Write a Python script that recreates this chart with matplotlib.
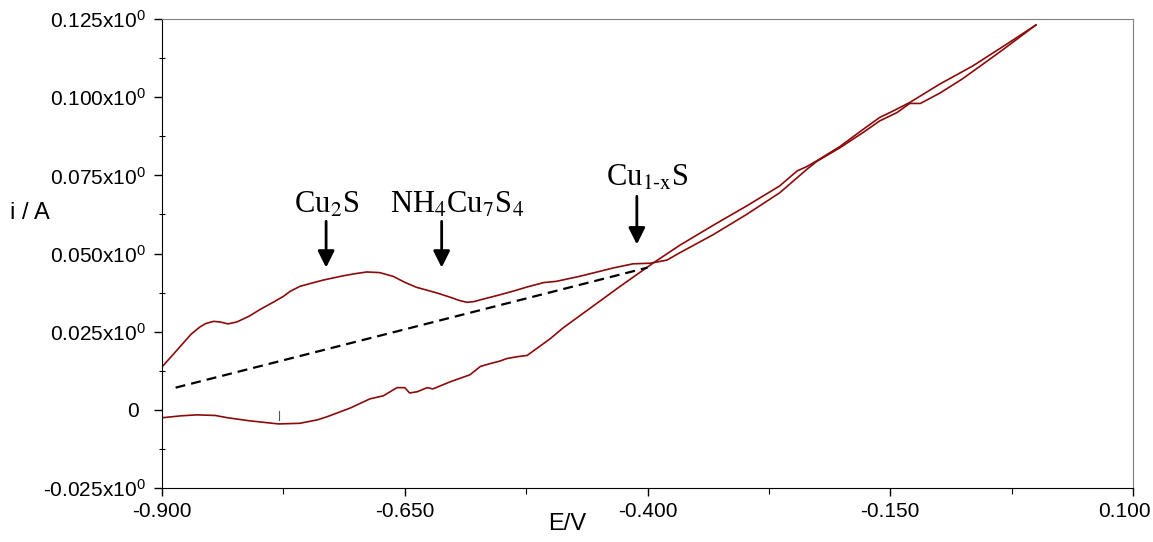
import numpy as np
import matplotlib
matplotlib.use('Agg')
import matplotlib.pyplot as plt
from matplotlib.ticker import FixedLocator
from matplotlib.transforms import ScaledTranslation

plt.rcParams['font.family'] = 'Liberation Sans'
plt.rcParams['mathtext.fontset'] = 'custom'
plt.rcParams['mathtext.rm'] = 'Liberation Sans'
plt.rcParams['mathtext.it'] = 'Liberation Sans:italic'

# forward branch (upper on the left, lower on the right of the crossing)
e_fwd = [-0.899, -0.890, -0.878, -0.870, -0.861, -0.855, -0.847, -0.840, -0.832, -0.823,
         -0.810, -0.799, -0.785, -0.775, -0.768, -0.758, -0.745, -0.734, -0.713, -0.700,
         -0.689, -0.676, -0.662, -0.650, -0.638, -0.617, -0.603, -0.594, -0.586, -0.579,
         -0.572, -0.552, -0.538, -0.524, -0.507, -0.494, -0.470, -0.435, -0.415, -0.397,
         -0.380, -0.367, -0.332, -0.298, -0.264, -0.236, -0.226, -0.202, -0.178, -0.161,
         -0.143, -0.130, -0.119, -0.099, -0.076, -0.058, -0.034, 0.000]
i_fwd = [0.0141, 0.0172, 0.0214, 0.0242, 0.0265, 0.0276, 0.0283, 0.0281, 0.0275, 0.0281,
         0.0300, 0.0321, 0.0345, 0.0363, 0.0379, 0.0395, 0.0406, 0.0415, 0.0429, 0.0436,
         0.0441, 0.0439, 0.0427, 0.0408, 0.0392, 0.0374, 0.0360, 0.0350, 0.0344, 0.0346,
         0.0352, 0.0368, 0.0380, 0.0393, 0.0407, 0.0411, 0.0427, 0.0454, 0.0467, 0.0469,
         0.0479, 0.0502, 0.0561, 0.0625, 0.0694, 0.0769, 0.0794, 0.0838, 0.0887, 0.0924,
         0.0951, 0.0980, 0.0980, 0.1013, 0.1058, 0.1098, 0.1152, 0.1231]

# reverse branch
e_rev = [-0.899, -0.880, -0.864, -0.845, -0.833, -0.810, -0.780, -0.758, -0.740, -0.730,
         -0.718, -0.706, -0.686, -0.672, -0.658, -0.650, -0.645, -0.637, -0.627, -0.621,
         -0.603, -0.583, -0.572, -0.562, -0.552, -0.545, -0.534, -0.524, -0.500, -0.487,
         -0.460, -0.430, -0.394, -0.367, -0.332, -0.298, -0.264, -0.246, -0.236, -0.226,
         -0.202, -0.178, -0.161, -0.147, -0.130, -0.099, -0.065, -0.030, 0.000]
i_rev = [-0.0025, -0.0019, -0.0016, -0.0018, -0.0025, -0.0035, -0.0045, -0.0043, -0.0032, -0.0022,
         -0.0008, 0.0006, 0.0035, 0.0045, 0.0071, 0.0071, 0.0054, 0.0058, 0.0071, 0.0067,
         0.0090, 0.0112, 0.0139, 0.0148, 0.0156, 0.0164, 0.0170, 0.0174, 0.0228, 0.0262,
         0.0323, 0.0391, 0.0470, 0.0526, 0.0591, 0.0652, 0.0716, 0.0764, 0.0778, 0.0796,
         0.0842, 0.0897, 0.0935, 0.0956, 0.0983, 0.1042, 0.1100, 0.1170, 0.1231]

# baseline (dashed)
base_e = [-0.886, -0.400]
base_i = [0.0071, 0.0455]

# small cursor mark on the lower branch
mark_e = -0.780
mark_i = [-0.0032, -0.0003]

# phase labels: text, arrow x, arrow tail y, arrow tip y, label x, label y
labels = ['Cu$_{\\mathrm{2}}$S', 'NH$_{\\mathrm{4}}$Cu$_{\\mathrm{7}}$S$_{\\mathrm{4}}$', 'Cu$_{\\text{1-x}}$S']
arrow_e = [-0.731, -0.612, -0.411]
arrow_tail = [0.0603, 0.0603, 0.0683]
arrow_tip = [0.0455, 0.0455, 0.0529]
label_e = [-0.730, -0.596, -0.400]
label_i = [0.0631, 0.0631, 0.0715]

xticks = [-0.9, -0.65, -0.4, -0.15, 0.1]
xtick_labels = ['-0.900', '-0.650', '-0.400', '-0.150', '0.100']
yticks = [-0.025, 0.0, 0.025, 0.05, 0.075, 0.1, 0.125]
ytick_labels = ['-0.025x10$^{0}$', '0 ', '0.025x10$^{0}$', '0.050x10$^{0}$',
                '0.075x10$^{0}$', '0.100x10$^{0}$', '0.125x10$^{0}$']

red = '#8b0a0a'

fig = plt.figure(figsize=(11.53, 5.42), dpi=100)
ax = fig.add_axes([0.1405, 0.0996, 0.8422, 0.8653])

ax.plot(e_fwd, i_fwd, color=red, lw=1.2)
ax.plot(e_rev, i_rev, color=red, lw=1.2)
ax.plot(base_e, base_i, color='k', lw=1.6, dashes=(4.5, 2.7))
ax.plot([mark_e, mark_e], mark_i, color='#555555', lw=0.8)

for txt, ax_e, t0, t1, le, li in zip(labels, arrow_e, arrow_tail, arrow_tip, label_e, label_i):
    ax.annotate('', xy=(ax_e, t1), xytext=(ax_e, t0),
                arrowprops=dict(arrowstyle='-|>', color='k', lw=2, mutation_scale=25,
                                shrinkA=0, shrinkB=0))
    ax.text(le, li, txt, ha='center', va='baseline', fontsize=22,
            family='Liberation Serif', math_fontfamily='stix')

ax.set_xlim(-0.9, 0.1)
ax.set_ylim(-0.025, 0.125)
ax.set_xticks(xticks)
ax.set_xticklabels(xtick_labels)
ax.set_yticks(yticks)
ax.set_yticklabels(ytick_labels)
ax.xaxis.set_minor_locator(FixedLocator([-0.775, -0.525, -0.275, -0.025]))
ax.yaxis.set_minor_locator(FixedLocator([-0.0125, 0.0125, 0.0375, 0.0625, 0.0875, 0.1125]))
ax.tick_params(axis='both', which='major', labelsize=15, length=6, width=1, direction='out')
ax.tick_params(axis='x', which='major', pad=4)
ax.tick_params(axis='y', which='major', pad=6)
ax.tick_params(axis='x', which='minor', length=4, width=0.8, direction='out')
ax.tick_params(axis='y', which='minor', length=5, width=0.8, direction='inout')

# keep the last x label inside the figure
last = ax.get_xticklabels()[-1]
last.set_transform(last.get_transform() + ScaledTranslation(-0.09, 0, fig.dpi_scale_trans))

for s in ['top', 'right']:
    ax.spines[s].set_color('#808080')
for s in ['left', 'bottom']:
    ax.spines[s].set_color('k')

fig.text(10 / 1153, 1 - 213 / 542, 'i / A', fontsize=17, ha='left', va='center')
fig.text(567 / 1153, 1 - 524 / 542, 'E/V', fontsize=17, ha='center', va='center')

fig.savefig('out.png', dpi=100)
